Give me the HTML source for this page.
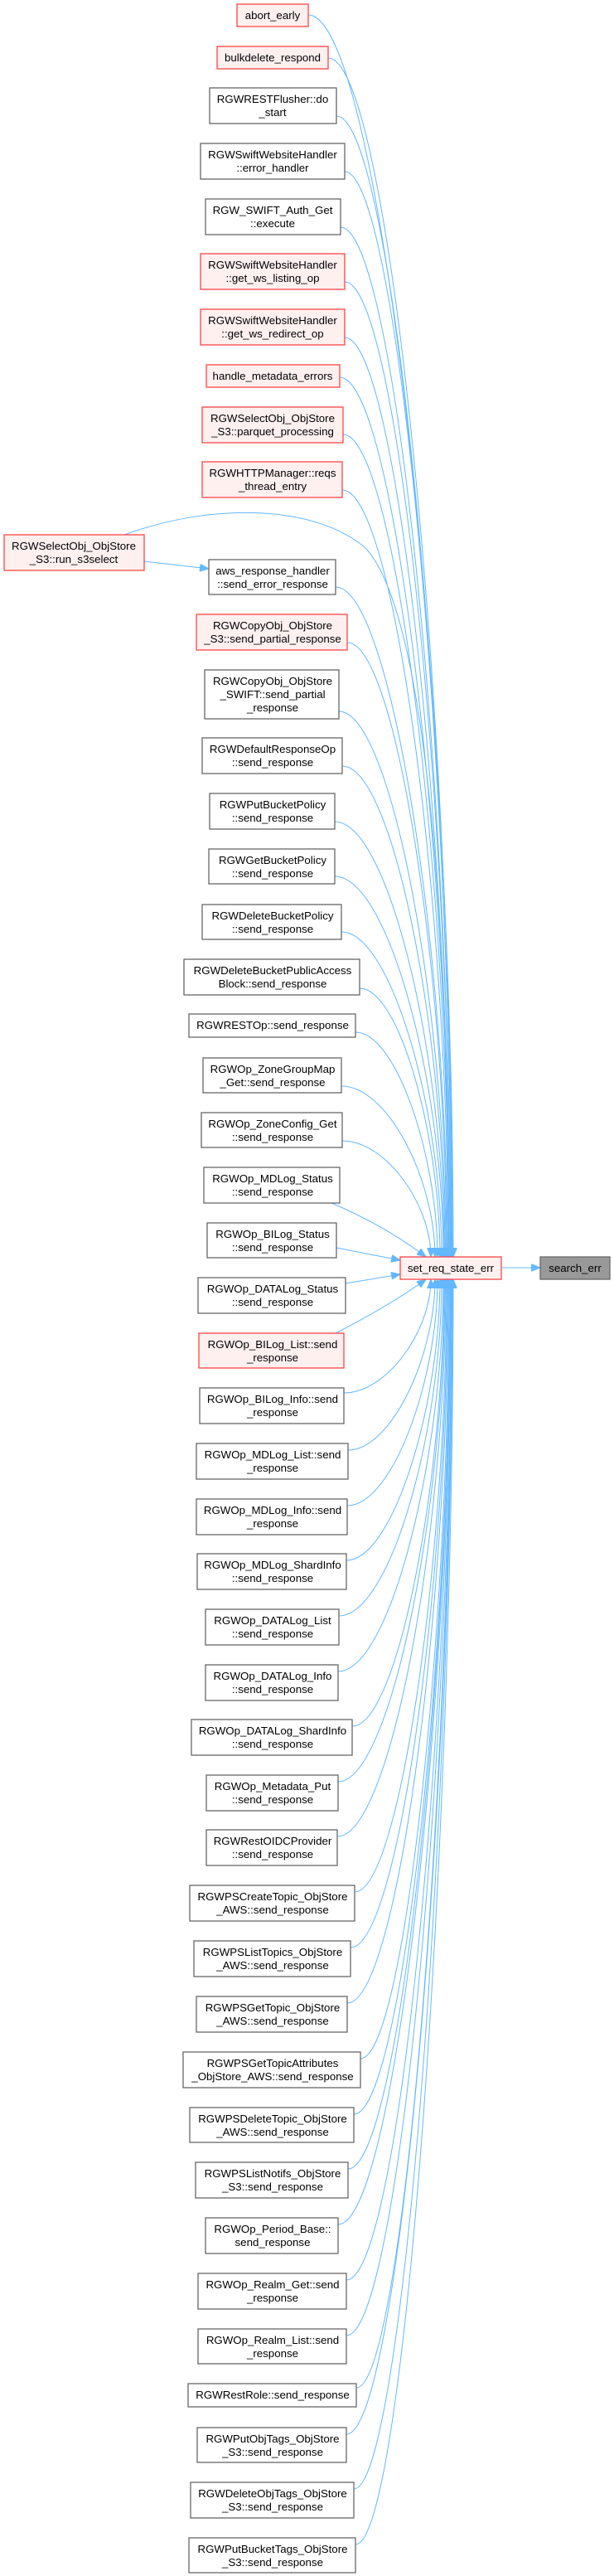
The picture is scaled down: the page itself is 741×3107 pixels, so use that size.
<!DOCTYPE html>
<html><head><meta charset="utf-8"><style>
html,body{margin:0;padding:0;background:#fff;}
svg{display:block;}
text{font-family:"Liberation Sans",Arial,sans-serif;font-size:13.3px;fill:#000;text-anchor:middle;}
.g{fill:#fff;stroke:#666;stroke-width:1.3;}
.r{fill:#fff0f0;stroke:#f44;stroke-width:1.3;}
.e{fill:none;stroke:#63b8ff;stroke-width:1;marker-end:url(#a);}
</style></head><body>
<svg width="741" height="3107" viewBox="0 0 741 3107" xmlns="http://www.w3.org/2000/svg">
<defs><marker id="a" markerUnits="userSpaceOnUse" markerWidth="12" markerHeight="9" refX="11" refY="4.5" orient="auto"><path d="M0,0 L11,4.5 L0,9 z" fill="#63b8ff" stroke="#63b8ff"/></marker></defs>
<g>
<path class="e" d="M372,18 C459,18 547,842 547,1516"/>
<path class="e" d="M396,70 C471,70 546,865 546,1516"/>
<path class="e" d="M406,140 C475,140 545,897 545,1516"/>
<path class="e" d="M416,207 C480,207 545,927 545,1516"/>
<path class="e" d="M411,274 C477,274 544,957 544,1516"/>
<path class="e" d="M416,340 C480,340 544,987 544,1516"/>
<path class="e" d="M416,407 C479,407 543,1017 543,1516"/>
<path class="e" d="M410,455 C476,455 543,1039 543,1516"/>
<path class="e" d="M414,524 C478,524 542,1070 542,1516"/>
<path class="e" d="M413,591 C477,591 541,1100 541,1516"/>
<path class="e" d="M150,645 C260,605 380,610 440,660 C500,720 541,1000 541,1516"/>
<path class="e" d="M405,708 C472,708 540,1152 540,1516"/>
<path class="e" d="M419,775 C479,775 539,1183 539,1516"/>
<path class="e" d="M409,858 C473,858 538,1220 538,1516"/>
<path class="e" d="M413,924 C475,924 537,1250 537,1516"/>
<path class="e" d="M404,991 C470,991 536,1280 536,1516"/>
<path class="e" d="M404,1057 C469,1057 535,1309 535,1516"/>
<path class="e" d="M412,1124 C472,1124 533,1340 533,1516"/>
<path class="e" d="M434,1192 C482,1192 531,1370 531,1516"/>
<path class="e" d="M429,1245 C478,1245 528,1394 528,1516"/>
<path class="e" d="M412,1310 C468,1310 525,1423 525,1516"/>
<path class="e" d="M413,1376 C466,1376 520,1453 520,1516"/>
<path class="e" d="M400,1451 C440,1468 480,1490 514,1516"/>
<path class="e" d="M406,1505 L483,1520"/>
<path class="e" d="M417,1548 L483,1537"/>
<path class="e" d="M405,1608 C440,1590 480,1568 514,1543"/>
<path class="e" d="M415,1680 C467,1680 520,1605 520,1543"/>
<path class="e" d="M420,1749 C472,1749 525,1636 525,1543"/>
<path class="e" d="M419,1816 C473,1816 528,1666 528,1543"/>
<path class="e" d="M418,1882 C474,1882 531,1696 531,1543"/>
<path class="e" d="M409,1949 C471,1949 533,1726 533,1543"/>
<path class="e" d="M408,2016 C471,2016 535,1756 535,1543"/>
<path class="e" d="M425,2082 C480,2082 536,1786 536,1543"/>
<path class="e" d="M408,2149 C472,2149 537,1816 537,1543"/>
<path class="e" d="M407,2215 C472,2215 538,1845 538,1543"/>
<path class="e" d="M428,2282 C483,2282 539,1876 539,1543"/>
<path class="e" d="M423,2349 C481,2349 540,1906 540,1543"/>
<path class="e" d="M419,2416 C480,2416 541,1936 541,1543"/>
<path class="e" d="M435,2483 C488,2483 542,1966 542,1543"/>
<path class="e" d="M427,2550 C485,2550 543,1996 543,1543"/>
<path class="e" d="M420,2616 C481,2616 543,2026 543,1543"/>
<path class="e" d="M408,2683 C476,2683 544,2056 544,1543"/>
<path class="e" d="M418,2750 C481,2750 544,2086 544,1543"/>
<path class="e" d="M418,2817 C481,2817 545,2116 545,1543"/>
<path class="e" d="M430,2880 C487,2880 545,2145 545,1543"/>
<path class="e" d="M418,2936 C482,2936 546,2170 546,1543"/>
<path class="e" d="M427,3002 C486,3002 546,2200 546,1543"/>
<path class="e" d="M429,3069 C488,3069 547,2230 547,1543"/>
<path class="e" d="M174,677 L252,686"/>
<path class="e" d="M605,1529 L652,1529"/>
</g>
<g>
<rect class="r" x="286" y="5" width="86" height="27"/><text x="329" y="23">abort_early</text>
<rect class="r" x="262" y="56" width="134" height="27"/><text x="329" y="74">bulkdelete_respond</text>
<rect class="g" x="253" y="106" width="153" height="43"/><text x="329" y="124">RGWRESTFlusher::do</text><text x="329" y="140">_start</text>
<rect class="g" x="242" y="173" width="174" height="43"/><text x="329" y="191">RGWSwiftWebsiteHandler</text><text x="329" y="207">::error_handler</text>
<rect class="g" x="248" y="240" width="163" height="43"/><text x="329" y="258">RGW_SWIFT_Auth_Get</text><text x="329" y="274">::execute</text>
<rect class="r" x="242" y="306" width="174" height="43"/><text x="329" y="324">RGWSwiftWebsiteHandler</text><text x="329" y="340">::get_ws_listing_op</text>
<rect class="r" x="242" y="373" width="174" height="43"/><text x="329" y="391">RGWSwiftWebsiteHandler</text><text x="329" y="407">::get_ws_redirect_op</text>
<rect class="r" x="249" y="440" width="161" height="27"/><text x="329" y="458">handle_metadata_errors</text>
<rect class="r" x="244" y="491" width="170" height="43"/><text x="329" y="509">RGWSelectObj_ObjStore</text><text x="329" y="525">_S3::parquet_processing</text>
<rect class="r" x="244" y="557" width="169" height="43"/><text x="329" y="575">RGWHTTPManager::reqs</text><text x="329" y="591">_thread_entry</text>
<rect class="r" x="5" y="645" width="169" height="43"/><text x="89" y="663">RGWSelectObj_ObjStore</text><text x="89" y="679">_S3::run_s3select</text>
<rect class="g" x="252" y="675" width="153" height="42"/><text x="329" y="693">aws_response_handler</text><text x="329" y="709">::send_error_response</text>
<rect class="r" x="237" y="741" width="182" height="43"/><text x="329" y="759">RGWCopyObj_ObjStore</text><text x="329" y="775">_S3::send_partial_response</text>
<rect class="g" x="247" y="808" width="162" height="59"/><text x="329" y="826">RGWCopyObj_ObjStore</text><text x="329" y="842">_SWIFT::send_partial</text><text x="329" y="858">_response</text>
<rect class="g" x="244" y="890" width="169" height="43"/><text x="329" y="908">RGWDefaultResponseOp</text><text x="329" y="924">::send_response</text>
<rect class="g" x="253" y="957" width="151" height="43"/><text x="329" y="975">RGWPutBucketPolicy</text><text x="329" y="991">::send_response</text>
<rect class="g" x="252" y="1024" width="152" height="42"/><text x="329" y="1042">RGWGetBucketPolicy</text><text x="329" y="1058">::send_response</text>
<rect class="g" x="244" y="1091" width="168" height="42"/><text x="329" y="1109">RGWDeleteBucketPolicy</text><text x="329" y="1125">::send_response</text>
<rect class="g" x="222" y="1157" width="212" height="43"/><text x="329" y="1175">RGWDeleteBucketPublicAccess</text><text x="329" y="1191">Block::send_response</text>
<rect class="g" x="228" y="1223" width="201" height="28"/><text x="329" y="1241">RGWRESTOp::send_response</text>
<rect class="g" x="245" y="1276" width="167" height="42"/><text x="329" y="1294">RGWOp_ZoneGroupMap</text><text x="329" y="1310">_Get::send_response</text>
<rect class="g" x="243" y="1342" width="170" height="42"/><text x="329" y="1360">RGWOp_ZoneConfig_Get</text><text x="329" y="1376">::send_response</text>
<rect class="g" x="246" y="1408" width="164" height="43"/><text x="329" y="1426">RGWOp_MDLog_Status</text><text x="329" y="1442">::send_response</text>
<rect class="g" x="250" y="1475" width="156" height="42"/><text x="329" y="1493">RGWOp_BILog_Status</text><text x="329" y="1509">::send_response</text>
<rect class="g" x="239" y="1541" width="178" height="43"/><text x="329" y="1559">RGWOp_DATALog_Status</text><text x="329" y="1575">::send_response</text>
<rect class="r" x="240" y="1608" width="175" height="42"/><text x="329" y="1626">RGWOp_BILog_List::send</text><text x="329" y="1642">_response</text>
<rect class="g" x="241" y="1674" width="174" height="43"/><text x="329" y="1692">RGWOp_BILog_Info::send</text><text x="329" y="1708">_response</text>
<rect class="g" x="237" y="1741" width="183" height="43"/><text x="329" y="1759">RGWOp_MDLog_List::send</text><text x="329" y="1775">_response</text>
<rect class="g" x="237" y="1808" width="182" height="43"/><text x="329" y="1826">RGWOp_MDLog_Info::send</text><text x="329" y="1842">_response</text>
<rect class="g" x="238" y="1874" width="180" height="43"/><text x="329" y="1892">RGWOp_MDLog_ShardInfo</text><text x="329" y="1908">::send_response</text>
<rect class="g" x="248" y="1941" width="161" height="43"/><text x="329" y="1959">RGWOp_DATALog_List</text><text x="329" y="1975">::send_response</text>
<rect class="g" x="248" y="2008" width="160" height="43"/><text x="329" y="2026">RGWOp_DATALog_Info</text><text x="329" y="2042">::send_response</text>
<rect class="g" x="231" y="2074" width="194" height="43"/><text x="329" y="2092">RGWOp_DATALog_ShardInfo</text><text x="329" y="2108">::send_response</text>
<rect class="g" x="249" y="2141" width="159" height="43"/><text x="329" y="2159">RGWOp_Metadata_Put</text><text x="329" y="2175">::send_response</text>
<rect class="g" x="249" y="2207" width="158" height="43"/><text x="329" y="2225">RGWRestOIDCProvider</text><text x="329" y="2241">::send_response</text>
<rect class="g" x="229" y="2274" width="199" height="43"/><text x="329" y="2292">RGWPSCreateTopic_ObjStore</text><text x="329" y="2308">_AWS::send_response</text>
<rect class="g" x="234" y="2341" width="189" height="43"/><text x="329" y="2359">RGWPSListTopics_ObjStore</text><text x="329" y="2375">_AWS::send_response</text>
<rect class="g" x="237" y="2408" width="182" height="43"/><text x="329" y="2426">RGWPSGetTopic_ObjStore</text><text x="329" y="2442">_AWS::send_response</text>
<rect class="g" x="221" y="2475" width="214" height="43"/><text x="329" y="2493">RGWPSGetTopicAttributes</text><text x="329" y="2509">_ObjStore_AWS::send_response</text>
<rect class="g" x="229" y="2542" width="198" height="42"/><text x="329" y="2560">RGWPSDeleteTopic_ObjStore</text><text x="329" y="2576">_AWS::send_response</text>
<rect class="g" x="236" y="2608" width="184" height="43"/><text x="329" y="2626">RGWPSListNotifs_ObjStore</text><text x="329" y="2642">_S3::send_response</text>
<rect class="g" x="248" y="2675" width="160" height="43"/><text x="329" y="2693">RGWOp_Period_Base::</text><text x="329" y="2709">send_response</text>
<rect class="g" x="239" y="2742" width="179" height="43"/><text x="329" y="2760">RGWOp_Realm_Get::send</text><text x="329" y="2776">_response</text>
<rect class="g" x="239" y="2809" width="179" height="42"/><text x="329" y="2827">RGWOp_Realm_List::send</text><text x="329" y="2843">_response</text>
<rect class="g" x="227" y="2875" width="203" height="28"/><text x="329" y="2893">RGWRestRole::send_response</text>
<rect class="g" x="238" y="2928" width="180" height="42"/><text x="329" y="2946">RGWPutObjTags_ObjStore</text><text x="329" y="2962">_S3::send_response</text>
<rect class="g" x="230" y="2994" width="197" height="43"/><text x="329" y="3012">RGWDeleteObjTags_ObjStore</text><text x="329" y="3028">_S3::send_response</text>
<rect class="g" x="228" y="3061" width="201" height="42"/><text x="329" y="3079">RGWPutBucketTags_ObjStore</text><text x="329" y="3095">_S3::send_response</text>
<rect class="r" x="483" y="1516" width="122" height="27"/><text x="544" y="1534">set_req_state_err</text>
<rect x="652" y="1516" width="84" height="27" fill="#999" stroke="#666" stroke-width="1.3"/><text x="694" y="1534">search_err</text>
</g>
</svg>
</body></html>
